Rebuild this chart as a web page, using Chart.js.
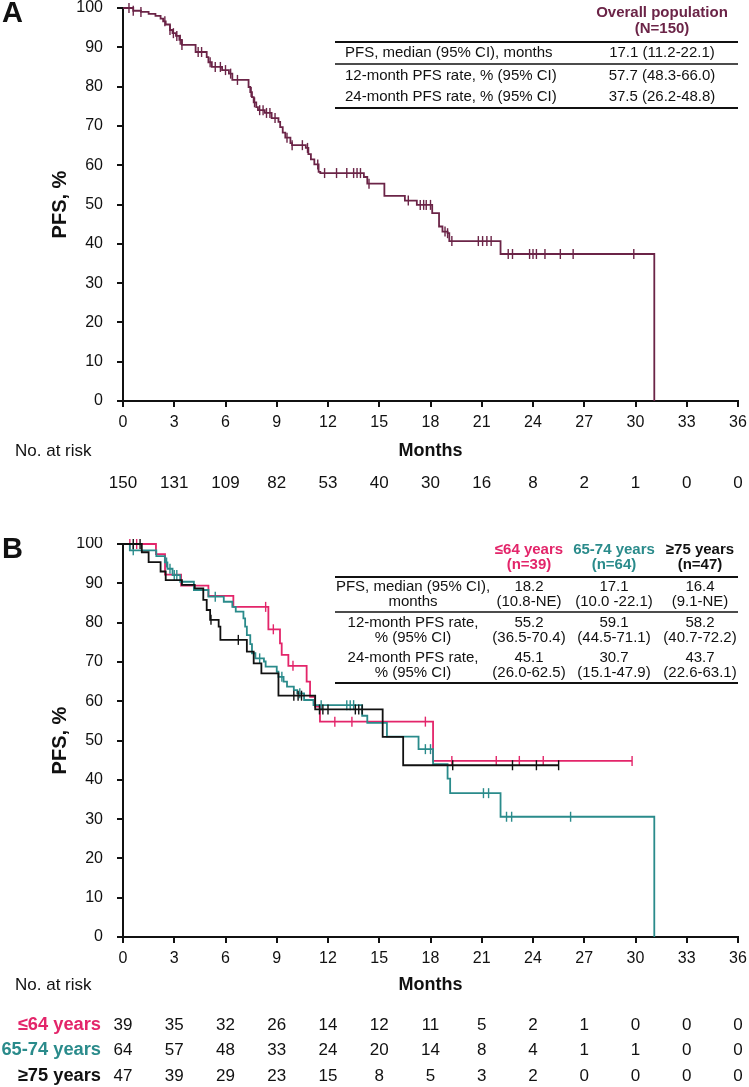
<!DOCTYPE html>
<html><head><meta charset="utf-8">
<script src="https://cdn.jsdelivr.net/npm/chart.js@4.4.1/dist/chart.umd.min.js"></script>
<style>
html,body{margin:0;padding:0;background:#fff;}
body{width:749px;height:1087px;position:relative;overflow:hidden;}
canvas{position:absolute;left:0;display:block;}
</style></head><body>
<canvas id="cA" width="749" height="537" style="top:0"></canvas>
<canvas id="cB" width="749" height="550" style="top:537px"></canvas>
<script>
// ---------- data ----------
const monthTicks = [0,3,6,9,12,15,18,21,24,27,30,33,36];
const yTicks = [0,10,20,30,40,50,60,70,80,90,100];

// Panel A: overall population
const overallTimes = [0,0.6,1.05,1.5,1.9,2.2,2.35,2.5,2.75,2.9,3.1,3.3,3.45,4.25,4.9,5.0,5.2,5.8,6.2,6.4,7.35,7.45,7.55,7.65,7.8,7.9,8.3,8.7,9.1,9.2,9.35,9.5,9.8,9.9,10.7,10.85,11.0,11.2,11.45,11.55,14.1,14.3,15.3,16.5,17.2,18.1,18.5,18.7,19.0,19.1,22.1,31.1];
const overallSurv  = [100,99.3,99.0,98.5,98.0,97.3,96.6,95.8,94.4,93.6,92.9,91.9,90.6,88.8,87.5,86.2,85.0,84.2,83.3,81.7,79.9,78.6,77.3,76.0,74.8,74.0,73.3,72.0,71.0,69.7,68.3,67.0,65.6,65.1,64.4,62.8,61.5,60.2,58.3,58.0,57.0,55.3,52.2,51.0,49.9,47.8,44.4,43.1,42.7,40.7,37.4,0];
const overallCensor = [0.35,0.6,1.05,2.45,2.75,2.95,3.15,3.35,3.45,4.4,4.6,5.1,5.4,5.7,6.0,6.3,6.7,7.5,7.7,8.0,8.2,8.4,8.6,8.9,9.6,9.9,10.5,10.8,11.4,11.8,12.5,13.1,13.5,13.7,13.9,14.4,16.7,17.4,17.6,17.75,18.0,18.85,19.0,19.25,20.8,21.05,21.3,21.55,22.55,22.8,23.8,24.0,24.2,24.7,25.6,26.35,29.9];
const riskOverall = [150,131,109,82,53,40,30,16,8,2,1,0,0];

// Panel B: age groups
const pinkTimes = [0,1.93,2.46,3.4,5.0,6.46,8.51,9.19,9.29,9.68,10.75,10.95,11.24,11.53,18.15,29.8];
const pinkSurv  = [100,97.4,92.2,89.4,86.8,84.0,78.3,74.7,71.8,69.0,65.0,61.1,58.6,54.8,44.8,44.8];
const pinkCensor = [0.4,0.8,8.35,8.8,9.95,12.4,13.4,17.7,19.25,21.85,23.2,24.6,29.8];

const tealTimes = [0,0.4,1.95,2.45,2.6,2.9,3.35,4.15,5.0,5.9,6.4,6.6,7.05,7.15,7.25,7.45,7.55,7.75,8.25,8.35,9.0,9.1,9.4,9.6,10.0,10.2,10.6,11.15,14.0,14.3,15.45,17.3,18.15,19.0,19.15,22.1,31.1];
const tealSurv  = [100,98.4,96.9,95.3,93.7,92.1,90.4,88.3,86.6,85.3,84.0,82.8,81.1,79.0,76.8,74.5,72.2,70.9,70.1,68.8,67.5,66.2,65.0,63.7,62.8,62.0,60.3,59.0,56.3,54.5,51.0,47.8,44.0,40.3,36.6,30.6,0];
const tealCensor = [0.6,2.55,2.75,3.0,3.15,5.4,8.0,9.3,10.35,11.6,13.1,13.3,13.5,17.7,18.0,21.1,21.4,22.45,22.75,26.2];

const blackTimes = [0,1.1,1.5,2.2,2.5,3.45,4.2,4.7,4.9,5.1,5.6,5.7,7.25,7.65,8.1,9.1,11.25,15.2,16.4,25.5];
const blackSurv  = [100,97.9,95.4,93.0,90.8,89.6,88.7,85.8,83.2,80.7,79.0,75.6,72.6,69.6,67.1,61.4,57.9,50.9,43.7,43.7];
const blackCensor = [0.6,1.0,5.15,6.75,10.0,10.25,10.45,11.5,11.7,12.0,13.6,13.8,14.0,19.3,22.8,24.2,25.5];

const riskPink  = [39,35,32,26,14,12,11,5,2,1,0,0,0];
const riskTeal  = [64,57,48,33,24,20,14,8,4,1,1,0,0];
const riskBlack = [47,39,29,23,15,8,5,3,2,0,0,0,0];

// Tables
const tableAHeader = ['Overall population','(N=150)'];
const tableALabels = ['PFS, median (95% CI), months','12-month PFS rate, % (95% CI)','24-month PFS rate, % (95% CI)'];
const tableAValues = ['17.1 (11.2-22.1)','57.7 (48.3-66.0)','37.5 (26.2-48.8)'];

const groupNames = ['≤64 years','65-74 years','≥75 years'];
const groupNs = ['(n=39)','(n=64)','(n=47)'];
const tableBLabels = [['PFS, median (95% CI),','months'],['12-month PFS rate,','% (95% CI)'],['24-month PFS rate,','% (95% CI)']];
const tableBPink  = [['18.2','(10.8-NE)'],['55.2','(36.5-70.4)'],['45.1','(26.0-62.5)']];
const tableBTeal  = [['17.1','(10.0 -22.1)'],['59.1','(44.5-71.1)'],['30.7','(15.1-47.9)']];
const tableBBlack = [['16.4','(9.1-NE)'],['58.2','(40.7-72.2)'],['43.7','(22.6-63.1)']];

// ---------- styles ----------
const FONT = "'Liberation Sans', Arial, Helvetica, sans-serif";
const C_OVERALL = '#6B2447';
const C_PINK = '#E3256A';
const C_TEAL = '#2A8B8B';
const C_BLACK = '#111111';
const INK = '#111111';

function survAt(times, surv, t){
  let v = surv[0];
  for (let i = 0; i < times.length; i++) { if (times[i] <= t + 1e-9) v = surv[i]; }
  return v;
}
function kmDataset(times, surv, color, width){
  return {type:'line', data: times.map((t,i)=>({x:t,y:surv[i]})), stepped:'before',
    borderColor:color, borderWidth:width, pointRadius:0, pointHoverRadius:0, fill:false, clip:false};
}
function censorDataset(censor, times, surv, color){
  return {type:'scatter', data: censor.map(t=>({x:t,y:survAt(times,surv,t)})), pointStyle:'line', rotation:90,
    pointRadius:5, pointHoverRadius:5, borderColor:color, backgroundColor:color, borderWidth:1.4, clip:false};
}
function txt(ctx, s, x, y, font, color, align){
  ctx.save(); ctx.font = font; ctx.fillStyle = color; ctx.textAlign = align || 'left'; ctx.textBaseline = 'middle';
  ctx.fillText(s, x, y); ctx.restore();
}
function hline(ctx, x1, x2, y, w){
  ctx.save(); ctx.strokeStyle = INK; ctx.lineWidth = w; ctx.beginPath(); ctx.moveTo(x1,y); ctx.lineTo(x2,y); ctx.stroke(); ctx.restore();
}

function makeOptions(topPad, xHeight, monthsPad){
  return {
    responsive:false, animation:false, events:[],
    layout:{padding:{left:0,right:11,top:topPad,bottom:0}},
    plugins:{legend:{display:false}, tooltip:{enabled:false}},
    scales:{
      x:{type:'linear', min:0, max:36,
        afterBuildTicks: s => { s.ticks = monthTicks.map(v => ({value:v})); },
        ticks:{color:INK, font:{family:FONT,size:16}, padding:6, maxRotation:0, autoSkip:false},
        grid:{drawOnChartArea:false, drawTicks:true, tickLength:6, color:INK, lineWidth:2},
        border:{display:true, color:INK, width:2},
        title:{display:true, text:'Months', color:INK, font:{family:FONT,size:18,weight:'bold'}, padding:{top:0,bottom:monthsPad}},
        afterFit: s => { s.height = xHeight; s.paddingLeft = 0; s.paddingRight = 0; }
      },
      y:{type:'linear', min:0, max:100,
        afterBuildTicks: s => { s.ticks = yTicks.map(v => ({value:v})); },
        ticks:{color:INK, font:{family:FONT,size:16}, padding:14},
        grid:{drawOnChartArea:false, drawTicks:true, tickLength:6, color:INK, lineWidth:2},
        border:{display:true, color:INK, width:2},
        title:{display:true, text:'PFS, %', color:INK, font:{family:FONT,size:20,weight:'bold'}, padding:{top:48,bottom:0}},
        afterFit: s => { s.width = 123; s.paddingTop = 0; s.paddingBottom = 0; }
      }
    }
  };
}

// ---------- Panel A ----------
const extrasA = {
  id:'extrasA',
  afterDraw(chart){
    const ctx = chart.ctx, xs = chart.scales.x;
    txt(ctx, 'A', 2, 14, 'bold 29px ' + FONT, INK, 'left');
    txt(ctx, 'No. at risk', 15, 451, '17px ' + FONT, INK, 'left');
    riskOverall.forEach((n,i) => txt(ctx, String(n), xs.getPixelForValue(monthTicks[i]), 483, '17px ' + FONT, INK, 'center'));
    // table
    txt(ctx, tableAHeader[0], 662, 13, 'bold 15px ' + FONT, C_OVERALL, 'center');
    txt(ctx, tableAHeader[1], 662, 29, 'bold 15px ' + FONT, C_OVERALL, 'center');
    hline(ctx, 335, 738, 42, 2);
    hline(ctx, 335, 738, 64, 1.5);
    hline(ctx, 335, 738, 108, 2);
    const rowsY = [53, 76, 97];
    tableALabels.forEach((s,i) => txt(ctx, s, 345, rowsY[i], '15px ' + FONT, INK, 'left'));
    tableAValues.forEach((s,i) => txt(ctx, s, 662, rowsY[i], '15px ' + FONT, INK, 'center'));
  }
};
new Chart(document.getElementById('cA'), {
  type:'line',
  data:{datasets:[
    kmDataset(overallTimes, overallSurv, C_OVERALL, 1.8),
    censorDataset(overallCensor, overallTimes, overallSurv, C_OVERALL)
  ]},
  options: makeOptions(8, 136, 75),
  plugins:[extrasA]
});

// ---------- Panel B ----------
const extrasB = {
  id:'extrasB',
  afterDraw(chart){
    const ctx = chart.ctx, xs = chart.scales.x;
    txt(ctx, 'B', 2, 13, 'bold 29px ' + FONT, INK, 'left');
    txt(ctx, 'No. at risk', 15, 448, '17px ' + FONT, INK, 'left');
    const rows = [[riskPink, C_PINK, 488], [riskTeal, C_TEAL, 513], [riskBlack, C_BLACK, 539]];
    rows.forEach((r, k) => {
      txt(ctx, groupNames[k], 101, r[2], 'bold 18.3px ' + FONT, r[1], 'right');
      r[0].forEach((n,i) => txt(ctx, String(n), xs.getPixelForValue(monthTicks[i]), r[2], '17px ' + FONT, INK, 'center'));
    });
    // table
    const colX = [529, 614, 700];
    const colC = [C_PINK, C_TEAL, C_BLACK];
    const vals = [tableBPink, tableBTeal, tableBBlack];
    for (let k = 0; k < 3; k++) {
      txt(ctx, groupNames[k], colX[k], 13, 'bold 15px ' + FONT, colC[k], 'center');
      txt(ctx, groupNs[k], colX[k], 28, 'bold 15px ' + FONT, colC[k], 'center');
    }
    hline(ctx, 335, 738, 40, 2);
    hline(ctx, 335, 738, 75, 1.5);
    hline(ctx, 335, 738, 146, 2);
    const rowsY = [[50,65],[86,101],[121,136]];
    tableBLabels.forEach((pair,i) => {
      txt(ctx, pair[0], 413, rowsY[i][0], '15px ' + FONT, INK, 'center');
      txt(ctx, pair[1], 413, rowsY[i][1], '15px ' + FONT, INK, 'center');
      for (let k = 0; k < 3; k++) {
        txt(ctx, vals[k][i][0], colX[k], rowsY[i][0], '15px ' + FONT, INK, 'center');
        txt(ctx, vals[k][i][1], colX[k], rowsY[i][1], '15px ' + FONT, INK, 'center');
      }
    });
  }
};
new Chart(document.getElementById('cB'), {
  type:'line',
  data:{datasets:[
    kmDataset(blackTimes, blackSurv, C_BLACK, 1.8),
    censorDataset(blackCensor, blackTimes, blackSurv, C_BLACK),
    kmDataset(tealTimes, tealSurv, C_TEAL, 1.8),
    censorDataset(tealCensor, tealTimes, tealSurv, C_TEAL),
    kmDataset(pinkTimes, pinkSurv, C_PINK, 1.8),
    censorDataset(pinkCensor, pinkTimes, pinkSurv, C_PINK)
  ]},
  options: makeOptions(7, 150, 91),
  plugins:[extrasB]
});
</script>
</body></html>
